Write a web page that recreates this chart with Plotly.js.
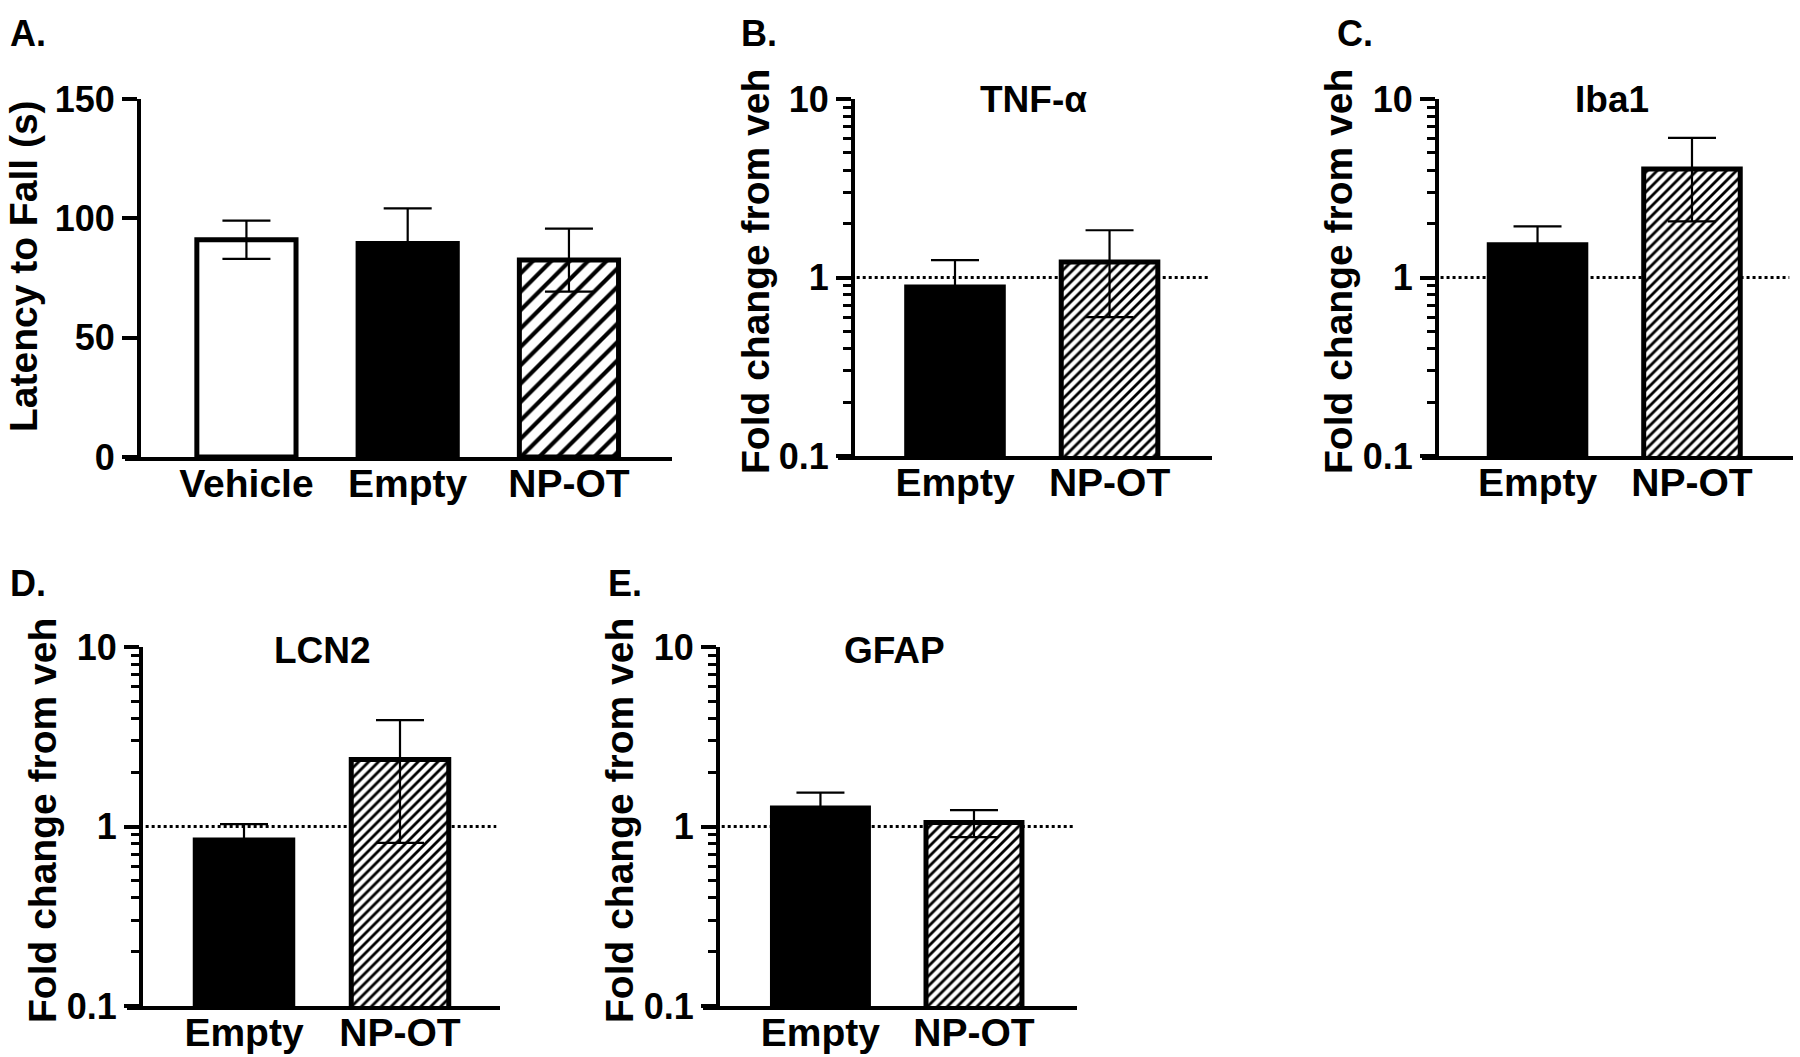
<!DOCTYPE html>
<html>
<head>
<meta charset="utf-8">
<script src="https://cdn.plot.ly/plotly-3.0.1.min.js"></script>
<style>
  html, body { margin: 0; padding: 0; background: #fff; }
  #chart { width: 1800px; height: 1057px; }
</style>
</head>
<body>
<div id="chart"></div>
<script>
// ---------------- data ----------------
const latencyCategories = ['Vehicle', 'Empty', 'NP-OT'];
const latencyMean = [91, 89.5, 82.5];
const latencySem = [8, 14.7, 13.2];

const geneCategories = ['Empty', 'NP-OT'];
const tnfMean = [0.886, 1.22];
const tnfSem = [0.364, 0.62];
const iba1Mean = [1.526, 4.06];
const iba1Sem = [0.41, 2.0];
const lcn2Mean = [0.842, 2.36];
const lcn2Sem = [0.19, 1.55];
const gfapMean = [1.266, 1.053];
const gfapSem = [0.28, 0.18];

const latencyTicks = [0, 50, 100, 150];
const foldTicks = [0.1, 1, 10];
const foldTickText = ['0.1', '1', '10'];
const referenceFold = 1;

// ---------------- styling ----------------
const W = 1800, H = 1057;
const FONT = 'Liberation Sans, Arial, Helvetica, sans-serif';
const px = v => v / W;
const py = v => 1 - v / H;

// fill style per group: plain white, solid black, or hatched
const groupStyle = {
  'Vehicle': { color: 'white', shape: '' },
  'Empty': { color: 'black', shape: '' },
  'NP-OT': { color: 'white', shape: '/' }
};

function panelTraces(cats, mean, sem, xa, ya, patSize, patSolid, width) {
  return cats.map((c, i) => {
    const st = groupStyle[c];
    const marker = { color: st.color, line: { color: 'black', width: 5 } };
    if (st.shape) {
      marker.pattern = { shape: st.shape, fgcolor: 'black', bgcolor: 'white', fgopacity: 1,
                         size: patSize, solidity: patSolid, fillmode: 'replace' };
    }
    return {
      type: 'bar', name: c,
      x: [c], y: [mean[i]],
      xaxis: xa, yaxis: ya,
      width: width,
      marker: marker,
      error_y: { type: 'data', array: [sem[i]], visible: true, color: 'black', thickness: 2.2, width: 24 },
      showlegend: false,
      hoverinfo: 'skip'
    };
  });
}

const traces = [].concat(
  panelTraces(latencyCategories, latencyMean, latencySem, 'x', 'y', 13, 0.32, 0.615),
  panelTraces(geneCategories, tnfMean, tnfSem, 'x2', 'y2', 7, 0.4, 0.625),
  panelTraces(geneCategories, iba1Mean, iba1Sem, 'x3', 'y3', 7, 0.4, 0.625),
  panelTraces(geneCategories, lcn2Mean, lcn2Sem, 'x4', 'y4', 7, 0.4, 0.625),
  panelTraces(geneCategories, gfapMean, gfapSem, 'x5', 'y5', 7, 0.4, 0.625)
);

const xLabelFont = { family: FONT, size: 39, color: 'black', weight: 'bold' };
const yTickFont = { family: FONT, size: 36, color: 'black', weight: 'bold' };

function xAxis(domainPx, range, anchor) {
  return {
    type: 'category', domain: [px(domainPx[0]), px(domainPx[1])], range: range,
    anchor: anchor, showline: true, linecolor: 'black', linewidth: 4,
    ticks: '', ticklabelstandoff: -11, showgrid: false, zeroline: false, tickfont: xLabelFont,
    automargin: false, fixedrange: true
  };
}
function yLinAxis(domainPy, posPx) {
  return {
    anchor: 'free', position: px(posPx), domain: [py(domainPy[1]), py(domainPy[0])],
    range: [0, 150], tickmode: 'array', tickvals: latencyTicks,
    showline: true, linecolor: 'black', linewidth: 4,
    ticks: 'outside', ticklen: 15, tickwidth: 4, tickcolor: 'black',
    showgrid: false, zeroline: false, tickfont: yTickFont, automargin: false, fixedrange: true
  };
}
function yLogAxis(domainPy, posPx) {
  return {
    type: 'log', anchor: 'free', position: px(posPx), domain: [py(domainPy[1]), py(domainPy[0])],
    range: [-1, 1], tickmode: 'array', tickvals: foldTicks, ticktext: foldTickText,
    showline: true, linecolor: 'black', linewidth: 4,
    ticks: 'outside', ticklen: 15, tickwidth: 4, tickcolor: 'black',
    minor: { ticks: 'outside', ticklen: 8, tickwidth: 3, tickcolor: 'black', dtick: 'D1', showgrid: false },
    showgrid: false, zeroline: false, tickfont: yTickFont, automargin: false, fixedrange: true
  };
}

function refLine(xa, ya, startFrac) {
  return {
    type: 'line', layer: 'below', xref: xa + ' domain', yref: ya,
    x0: startFrac, x1: 0.99, y0: referenceFold, y1: referenceFold,
    line: { color: 'black', width: 3, dash: 'dot' }
  };
}

function label(text, xPx, yPx, size, xanchor, angle) {
  return {
    text: text, xref: 'paper', yref: 'paper', x: px(xPx), y: py(yPx),
    xanchor: xanchor, yanchor: 'middle', showarrow: false, textangle: angle || 0,
    font: { family: FONT, size: size, color: 'black', weight: 'bold' }
  };
}

const layout = {
  width: W, height: H,
  margin: { l: 0, r: 0, t: 0, b: 0, pad: 0 },
  paper_bgcolor: 'white', plot_bgcolor: 'rgba(0,0,0,0)',
  barmode: 'overlay',
  xaxis: xAxis([125, 672], [-0.753, 2.639], 'y'),
  yaxis: yLinAxis([99, 457], 139),
  xaxis2: xAxis([838, 1212], [-0.757, 1.663], 'y2'),
  yaxis2: yLogAxis([99, 456], 853),
  xaxis3: xAxis([1422, 1793], [-0.748, 1.654], 'y3'),
  yaxis3: yLogAxis([99, 456], 1437),
  xaxis4: xAxis([127, 500], [-0.75, 1.641], 'y4'),
  yaxis4: yLogAxis([647, 1006], 141),
  xaxis5: xAxis([703, 1077], [-0.765, 1.671], 'y5'),
  yaxis5: yLogAxis([647, 1006], 718),
  shapes: [
    refLine('x2', 'y2', 0.05),
    refLine('x3', 'y3', 0.05),
    refLine('x4', 'y4', 0.05),
    refLine('x5', 'y5', 0.05)
  ],
  annotations: [
    label('A.', 8, 34, 36, 'left'),
    label('B.', 739, 34, 36, 'left'),
    label('C.', 1335, 34, 36, 'left'),
    label('D.', 8, 583, 36, 'left'),
    label('E.', 606, 583, 36, 'left'),
    label('TNF-α', 1033, 100, 37, 'center'),
    label('Iba1', 1612, 100, 37, 'center'),
    label('LCN2', 322, 650, 37, 'center'),
    label('GFAP', 894, 650, 37, 'center'),
    label('Latency to Fall (s)', 24, 266, 39, 'center', -90),
    label('Fold change from veh', 755, 272, 39, 'center', -90),
    label('Fold change from veh', 1338, 272, 39, 'center', -90),
    label('Fold change from veh', 42, 821, 39, 'center', -90),
    label('Fold change from veh', 619, 821, 39, 'center', -90)
  ]
};

Plotly.newPlot('chart', traces, layout, { displayModeBar: false, staticPlot: true });
</script>
</body>
</html>
